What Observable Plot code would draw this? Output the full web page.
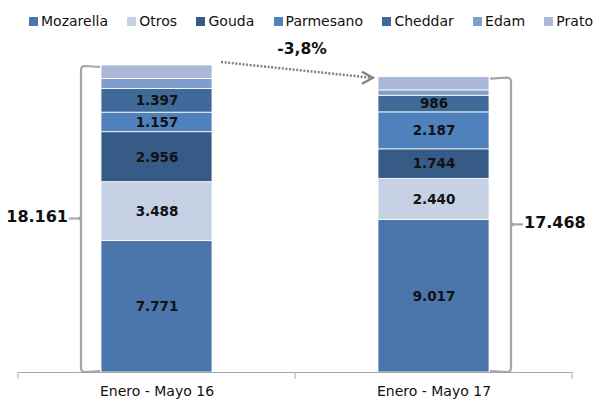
<!DOCTYPE html>
<html>
<head>
<meta charset="utf-8">
<script src="https://cdn.jsdelivr.net/npm/d3@7"></script>
<script src="https://cdn.jsdelivr.net/npm/@observablehq/plot@0.6"></script>
<style>
  html, body { margin: 0; padding: 0; background: #fff; }
  #wrap { position: relative; width: 595px; height: 400px; font-family: "DejaVu Sans", sans-serif; }
  #legend { position: absolute; top: 12px; left: 29px; width: 564px; display: flex; justify-content: space-between; font-size: 14px; line-height: 18px; color: #111; }
  #legend span.item { display: flex; align-items: center; white-space: nowrap; }
  #legend span.sw { display: inline-block; width: 9px; height: 9px; margin-right: 3px; }
</style>
</head>
<body>
<div id="wrap">
  <div id="legend"></div>
  <div id="chart"></div>
</div>
<script>
// ---- data ----
const periods = ["Enero - Mayo 16", "Enero - Mayo 17"];
const cheeses = ["Mozarella", "Otros", "Gouda", "Parmesano", "Cheddar", "Edam", "Prato"];
const colors  = ["#4a76ac", "#c6d1e4", "#375b87", "#4f81bd", "#3f6999", "#809ecb", "#a9b8d7"];
const values16 = [7771, 3488, 2956, 1157, 1397, 590, 802];
const values17 = [9017, 2440, 1744, 2187, 986, 312, 782];
const totals = [18161, 17468];
const labeled = ["Mozarella", "Otros", "Gouda", "Parmesano", "Cheddar"];
const changeLabel = "-3,8%";

const fmt = d3.formatLocale({decimal: ",", thousands: ".", grouping: [3], currency: ["", ""]}).format(",");

const rows = [];
[values16, values17].forEach((vals, i) => {
  vals.forEach((v, j) => rows.push({period: periods[i], cheese: cheeses[j], value: v,
    label: labeled.includes(cheeses[j]) ? fmt(v) : null}));
});
const totalRows = periods.map((p, i) => ({period: p, total: totals[i]}));

// legend
const legend = document.getElementById("legend");
cheeses.forEach((c, i) => {
  const it = document.createElement("span");
  it.className = "item";
  it.innerHTML = `<span class="sw" style="background:${colors[i]}"></span>${c}`;
  legend.appendChild(it);
});

const gray = "#a6a6a6";
const ns = "http://www.w3.org/2000/svg";

// braces + totals + ticks + arrow, all from scales
function annotations(index, scales, values, dims) {
  const g = document.createElementNS(ns, "g");
  const x = scales.x, y = scales.y;
  const bw = x.bandwidth();
  const y0 = y(0);
  const add = (tag, attrs, text) => {
    const el = document.createElementNS(ns, tag);
    for (const k in attrs) el.setAttribute(k, attrs[k]);
    if (text != null) el.textContent = text;
    g.appendChild(el);
    return el;
  };
  // axis boundary ticks
  const left = dims.marginLeft, right = dims.width - dims.marginRight;
  const mid = (x(periods[0]) + bw + x(periods[1])) / 2;
  [left, mid, right].forEach(tx => add("line", {x1: tx, x2: tx, y1: y0, y2: y0 + 7, stroke: gray, "stroke-width": 1}));

  totalRows.forEach((d, i) => {
    const yt = y(d.total), ym = y(d.total / 2);
    const side = i === 0 ? -1 : 1;
    const edge = i === 0 ? x(d.period) : x(d.period) + bw;
    const bx = edge + side * (i === 0 ? 20 : 22);   // brace vertical line
    const hx = edge + side * 1;                      // hook end
    const px = bx + side * 12;                       // brace stub end
    const r = 4;
    const path = `M${hx},${yt + 2} L${bx - side * r},${yt + 1} Q${bx},${yt + 1} ${bx},${yt + 1 + r}
      L${bx},${y0 - r} Q${bx},${y0} ${bx - side * r},${y0} L${hx},${y0 - 1}`;
    add("path", {d: path, fill: "none", stroke: gray, "stroke-width": 2.2});
    add("path", {d: `M${bx},${ym - 3} Q${bx},${ym} ${bx + side * 3},${ym} L${px},${ym} M${bx + side * 3},${ym} Q${bx},${ym} ${bx},${ym + 3}`,
      fill: "none", stroke: gray, "stroke-width": 2.2});
    add("text", {x: px + side * 1, y: ym - 1, "text-anchor": i === 0 ? "end" : "start", "dominant-baseline": "middle",
      "font-weight": "bold", "font-size": 16, fill: "#111"}, fmt(d.total));
  });

  // dotted change arrow
  const xa = x(periods[0]) + bw + 9, ya = y(totals[0]) - 3;
  const xb = x(periods[1]) - 5, yb = y(totals[1]) + 1;
  add("line", {x1: xa, y1: ya, x2: xb - 2, y2: yb, stroke: "#808080", "stroke-width": 2.5, "stroke-dasharray": "2,1.6"});
  add("path", {d: `M${xb - 11},${yb - 6} L${xb},${yb} L${xb - 11},${yb + 6}`, fill: "none", stroke: "#808080", "stroke-width": 2.2});
  add("text", {x: (xa + xb) / 2 + 5, y: ya - 8, "text-anchor": "middle", "font-weight": "bold", "font-size": 15.5, fill: "#111"}, changeLabel);
  return g;
}

const chart = Plot.plot({
  width: 595,
  height: 400,
  marginTop: 65,
  marginBottom: 28,
  marginLeft: 18,
  marginRight: 23,
  style: {fontFamily: "DejaVu Sans, sans-serif", fontSize: "14px", color: "#111", background: "#fff"},
  x: {domain: periods, paddingInner: 0.6, paddingOuter: 0.3, label: null, tickSize: 0, tickPadding: 14},
  y: {domain: [0, d3.max(totals)], axis: null},
  color: {domain: cheeses, range: colors},
  marks: [
    Plot.barY(rows, Plot.stackY({x: "period", y: "value", fill: "cheese", order: cheeses, stroke: "#fff", strokeWidth: 0.8})),
    Plot.text(rows, Plot.stackY({x: "period", y: "value", z: "cheese", order: cheeses, text: "label",
      fontWeight: "bold", fontSize: 13.5, fill: "#111", style: "letter-spacing:0.6px"})),
    Plot.ruleY([0], {stroke: gray, strokeWidth: 1}),
    annotations
  ]
});
document.getElementById("chart").appendChild(chart);
</script>
</body>
</html>
